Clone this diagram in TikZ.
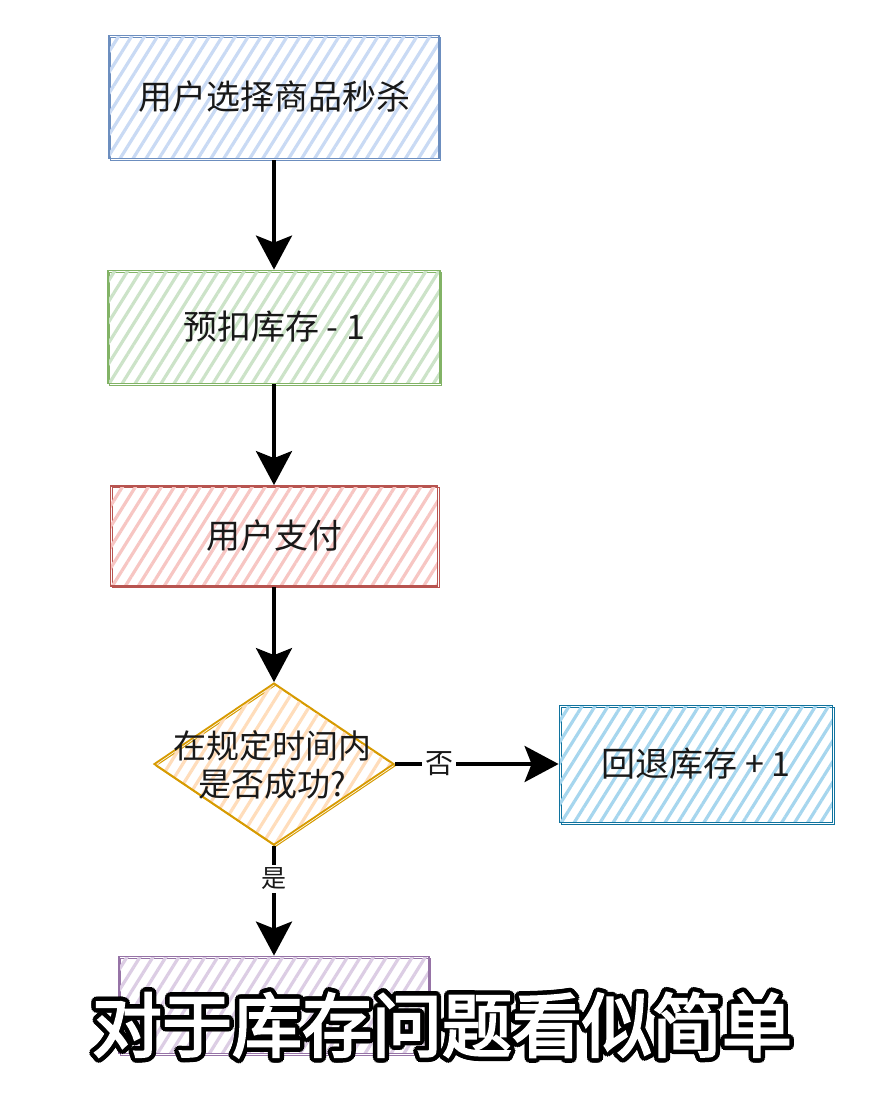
\documentclass[tikz,border=0pt]{standalone}
\usepackage{fontspec}
\newfontfamily\cjk{Noto Sans CJK SC}
\newfontfamily\cjkbig{Noto Sans CJK SC}[FakeBold=3]
\usetikzlibrary{arrows.meta,patterns.meta,shapes.geometric}
\definecolor{blueS}{HTML}{6C8EBF}\definecolor{blueH}{HTML}{C9DAF4}
\definecolor{greenS}{HTML}{82B366}\definecolor{greenH}{HTML}{CCE3C8}
\definecolor{redS}{HTML}{B85450}\definecolor{redH}{HTML}{F7C6C3}
\definecolor{orS}{HTML}{D79B00}\definecolor{orH}{HTML}{FFDDBB}
\definecolor{cyS}{HTML}{10739E}\definecolor{cyH}{HTML}{A6D6EE}
\definecolor{puS}{HTML}{9673A6}\definecolor{puH}{HTML}{DCCDE4}
\tikzset{
  box/.style={rectangle, draw=#1, line width=1.8pt, inner sep=0pt,
    preaction={draw=#1, line width=1pt, transform canvas={shift={(1.5pt,-1.8pt)}}},
    font=\cjk\fontsize{34}{40}\selectfont, text=black!90},
  hatch/.style={pattern={Lines[angle=58,distance=11pt,line width=3.2pt]}, pattern color=#1},
  arr/.style={line width=4pt, -{Stealth[length=34pt,width=36pt,inset=7pt]}},
  elabel/.style={fill=white, inner sep=3pt, text=black!90},
  subtxt/.style={font=\cjkbig\fontsize{70}{80}\selectfont, inner sep=0pt},
}
\begin{document}
\begin{tikzpicture}[x=1pt,y=-1pt]
\useasboundingbox (0,0) rectangle (878,1098);
\fill[white] (0,0) rectangle (878,1098);
\node[box=blueS, hatch=blueH, minimum width=330pt, minimum height=123pt] (b1) at (274,97) {用户选择商品秒杀};
\node[box=greenS, hatch=greenH, minimum width=332pt, minimum height=113pt] (b2) at (274,327) {预扣库存 - 1};
\node[box=redS, hatch=redH, minimum width=327pt, minimum height=100pt] (b3) at (274,536) {用户支付};
\node[diamond, draw=orS, line width=1.8pt, hatch=orH, inner sep=0pt,
  preaction={draw=orS, line width=1pt, transform canvas={shift={(1.5pt,-1.8pt)}}},
  minimum width=240pt, minimum height=162pt] (d) at (274,764) {};
\node[font=\cjk\fontsize{33}{38}\selectfont, align=center, text=black!90] (dt) at (272,765) {在规定时间内\\是否成功?};
\node[box=cyS, hatch=cyH, minimum width=273pt, minimum height=117pt] (r) at (696,764) {回退库存 + 1};
\node[box=puS, hatch=puH, minimum width=310pt, minimum height=97pt] (p) at (274,1005) {};
\draw[arr] (b1) -- (b2);
\draw[arr] (b2) -- (b3);
\draw[arr] (b3) -- (d);
\draw[arr] (d) -- node[elabel, pos=0.27, font=\cjk\fontsize{28}{30}\selectfont] (no) {否} (r);
\draw[arr] (d) -- node[elabel, pos=0.3, font=\cjk\fontsize{25}{27}\selectfont] (yes) {是} (p);
\foreach \a [count=\i] in {0,22.5,...,337.5}
  \node[subtxt, text=black] (sub\i) at ([shift={(\a:4.5)}]442,1025) {对于库存问题看似简单};
\node[subtxt, text=white] (sub) at (442,1025) {对于库存问题看似简单};
\end{tikzpicture}
\end{document}
